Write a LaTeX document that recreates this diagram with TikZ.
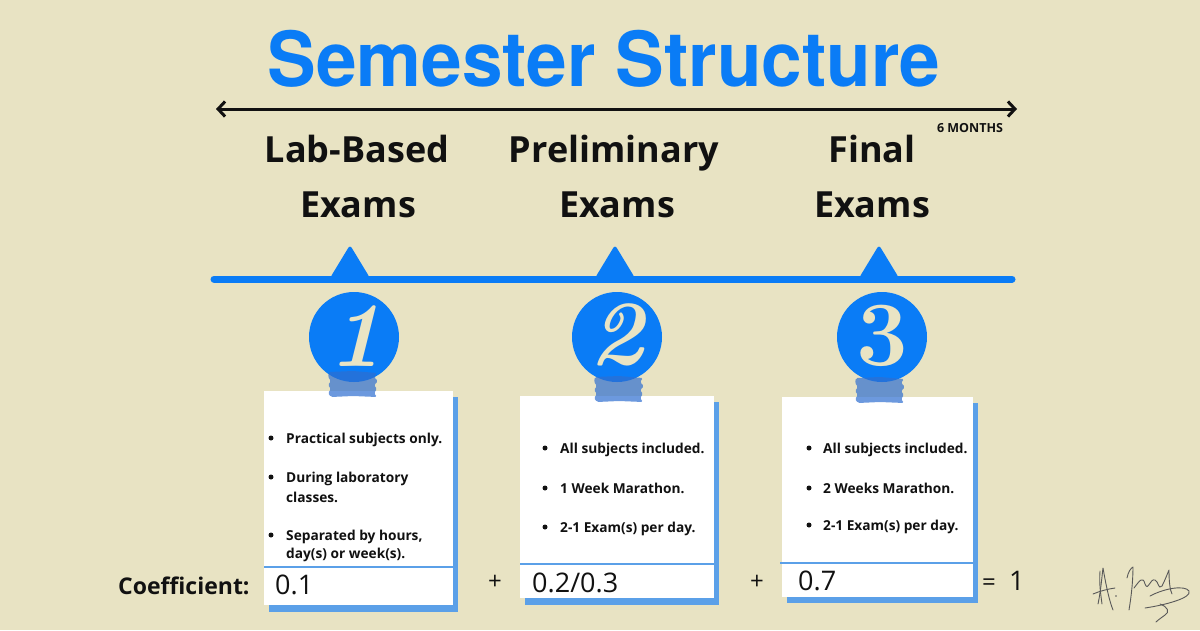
\documentclass[tikz,border=0pt]{standalone}
\usepackage{fontspec}
\setmainfont{Open Sans}
\newfontfamily\heros{TeX Gyre Heros}
\newfontfamily\lmr{Latin Modern Roman}
\usetikzlibrary{arrows.meta}
\definecolor{bg}{HTML}{E8E3C3}
\definecolor{tblue}{HTML}{0A7CF6}
\definecolor{shadowblue}{HTML}{5BA0E8}
\definecolor{tapeblue}{HTML}{2F6FD0}
\definecolor{cream}{HTML}{E9E4C4}
\definecolor{ink}{HTML}{111111}
\begin{document}
\begin{tikzpicture}[x=1pt,y=-1pt,
  title/.style={anchor=base, inner sep=0, text=tblue, font=\heros\bfseries\fontsize{76}{76}\selectfont},
  heading/.style={anchor=base, inner sep=0, text=ink, font=\bfseries\fontsize{36}{36}\selectfont},
  bul/.style={anchor=west, inner sep=0, text=ink, text height=10pt, text depth=0pt, font=\bfseries\fontsize{13.7}{16}\selectfont},
  bulletdot/.style={fill=ink},
  coef/.style={anchor=west, inner sep=0, text=ink, text height=19pt, text depth=0pt, font=\fontsize{27}{27}\selectfont},
  numcircle/.style={circle, fill=tblue, minimum size=90pt, inner sep=0},
  digit/.style={text=cream, inner sep=0, font=\lmr\bfseries\fontsize{92}{92}\selectfont},
  shadow/.style={fill=shadowblue},
  card/.style={fill=white},
  divider/.style={draw=shadowblue, line width=1.5pt},
  tape/.pic={\fill[tapeblue, opacity=0.7, rounded corners=1.5pt]
     (-24,-12) -- (0,-13) -- (24,-11) -- (21,-7) -- (25,-3) -- (21,1) -- (24,5) -- (21,9) -- (24,13)
     -- (0,12) -- (-22,13) -- (-25,9) -- (-22,5) -- (-25,1) -- (-22,-3) -- (-25,-7) -- cycle;},
  sig/.style={draw=black!65, line width=0.9pt, line cap=round, line join=round}
]
% background
\fill[bg] (0,0) rectangle (1200,630);
\useasboundingbox (0,0) rectangle (1200,630);

% title
\node[title] (title) at (604,86) {\scalebox{0.96}[1]{Semester Structure}};

% top arrow
\coordinate (aL) at (216,109);
\coordinate (aR) at (1017,109);
\draw[ink, line width=3pt, {Straight Barb[length=7pt,width=15pt]}-{Straight Barb[length=7pt,width=15pt]}] (aL) -- (aR);
\node[anchor=center, inner sep=0, text=ink, font=\bfseries\fontsize{12.5}{12.5}\selectfont] (months) at (970,128) {6 MONTHS};

% headings
\node[heading] (h1a) at (357,162) {Lab-Based};
\node[heading] (h1b) at (358,217) {Exams};
\node[heading] (h2a) at (614,162) {Preliminary};
\node[heading] (h2b) at (617,217) {Exams};
\node[heading] (h3a) at (872,162) {Final};
\node[heading] (h3b) at (872,217) {Exams};

% timeline
\coordinate (tL) at (214,279);
\coordinate (tR) at (1012,279);
\draw[tblue, line width=7pt, line cap=round] (tL) -- (tR);
\fill[tblue, rounded corners=3pt] (330,278) -- (350,245) -- (370,278) -- cycle;
\fill[tblue, rounded corners=3pt] (595,278) -- (615,245) -- (635,278) -- cycle;
\fill[tblue, rounded corners=3pt] (859,278) -- (879,245) -- (899,278) -- cycle;

% cards
\fill[shadow] (269,397) rectangle (458,612);
\fill[card] (264,391) rectangle (453,605);
\draw[divider] (264,567) -- (453,567);

\fill[shadow] (525,402) rectangle (719,605);
\fill[card] (520,396) rectangle (714,598);
\draw[divider] (520,564) -- (714,564);

\fill[shadow] (787,403) rectangle (978,603);
\fill[card] (782,397) rectangle (973,597);
\draw[divider] (780,563) -- (973,563);

% circles with numbers
\node[numcircle] (c1) at (354,337) {};
\node[numcircle] (c2) at (617,337) {};
\node[numcircle] (c3) at (882,337) {};
\node[digit] (d1) at (356,336) {\itshape 1};
\node[digit] (d2) at (617,335) {\itshape 2};
\node[digit] (d3) at (882,336) {3};

% tapes
\pic at (353,384) {tape};
\pic at (619,389) {tape};
\pic at (880,390) {tape};

% card 1 text
\fill[bulletdot] (271,438) circle[radius=2.5pt];
\fill[bulletdot] (271,477) circle[radius=2.5pt];
\fill[bulletdot] (271,535) circle[radius=2.5pt];
\node[bul] (b11) at (286,438) {Practical subjects only.};
\node[bul] (b12) at (286,477) {During laboratory};
\node[bul] (b12b) at (286,497) {classes.};
\node[bul] (b13) at (286,535) {Separated by hours,};
\node[bul] (b13b) at (286,553) {day(s) or week(s).};

% card 2 text
\fill[bulletdot] (545,448) circle[radius=2.5pt];
\fill[bulletdot] (545,488) circle[radius=2.5pt];
\fill[bulletdot] (545,527) circle[radius=2.5pt];
\node[bul] (b21) at (560,448) {All subjects included.};
\node[bul] (b22) at (560,488) {1 Week Marathon.};
\node[bul] (b23) at (560,527) {2-1 Exam(s) per day.};

% card 3 text
\fill[bulletdot] (809,448) circle[radius=2.5pt];
\fill[bulletdot] (809,488) circle[radius=2.5pt];
\fill[bulletdot] (809,525) circle[radius=2.5pt];
\node[bul] (b31) at (823,448) {All subjects included.};
\node[bul] (b32) at (823,488) {2 Weeks Marathon.};
\node[bul] (b33) at (823,525) {2-1 Exam(s) per day.};

% coefficients
\node[anchor=west, inner sep=0, text=ink, text height=17pt, text depth=0pt, font=\bfseries\fontsize{23}{23}\selectfont] (coefl) at (118,586) {Coefficient:};
\node[coef] (k1) at (275,585) {0.1};
\node[coef] (k2) at (532,583) {0.2/0.3};
\node[coef] (k3) at (798,581) {0.7};
\node[coef, anchor=center, font=\fontsize{24}{24}\selectfont] (p1) at (495,580) {+};
\node[coef, anchor=center, font=\fontsize{24}{24}\selectfont] (p2) at (757,580) {+};
\node[coef, font=\fontsize{24}{24}\selectfont] (eq) at (982,581) {=};
\node[coef] (one) at (1009,581) {1};

% signature
\draw[sig] (1100,571) .. controls (1099,585) and (1101,596) .. (1102,604);
\draw[sig] (1098,604) .. controls (1101,590) and (1102,575) .. (1103,568) .. controls (1106,585) and (1109,600) .. (1113,610);
\draw[sig] (1093,594) .. controls (1100,591) and (1108,589) .. (1115,588);
\fill[black!65] (1116,596) circle[radius=0.9pt];
\draw[sig] (1127,578) .. controls (1128,572) and (1131,568) .. (1133,567) .. controls (1133,582) and (1131,598) .. (1129,610);
\draw[sig] (1134,588) .. controls (1140,580) and (1143,576) .. (1145,584) .. controls (1148,592) and (1150,578) .. (1155,580)
  .. controls (1159,582) and (1158,590) .. (1162,586) .. controls (1166,578) and (1168,572) .. (1169,570)
  .. controls (1169,582) and (1170,590) .. (1172,594);
\draw[sig] (1150,596) .. controls (1165,588) and (1185,585) .. (1189,591) .. controls (1192,598) and (1165,605) .. (1145,608);
\draw[sig] (1160,604) .. controls (1168,607) and (1170,612) .. (1165,615) .. controls (1161,618) and (1158,620) .. (1156,622);
\end{tikzpicture}
\end{document}
